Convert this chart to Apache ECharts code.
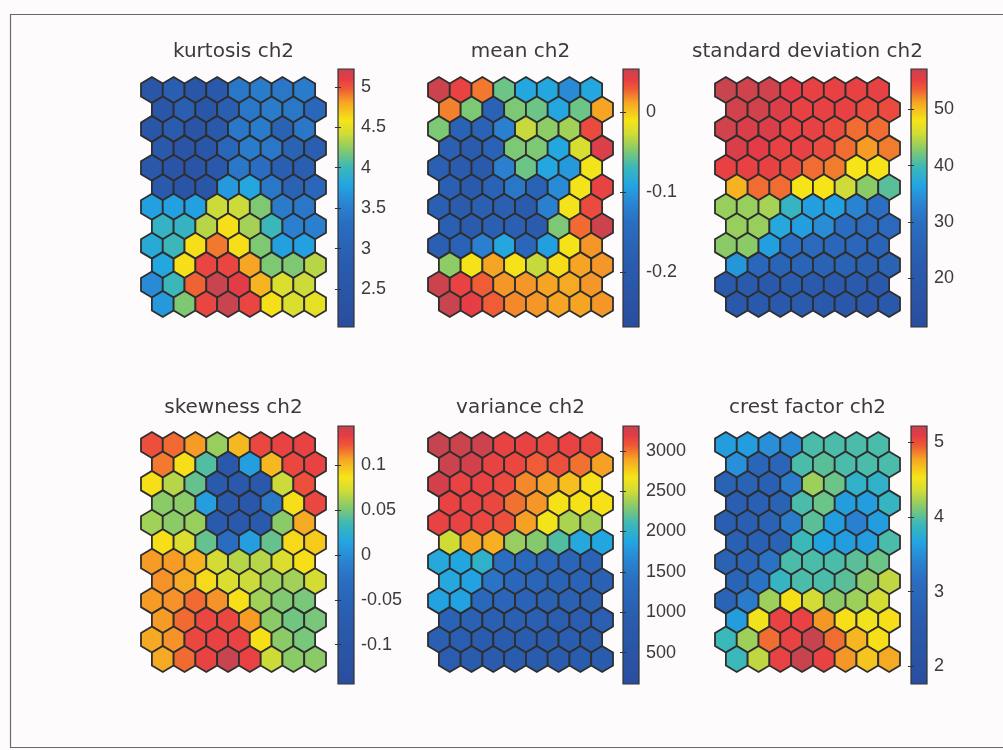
<!DOCTYPE html>
<html>
<head>
<meta charset="utf-8">
<script src="https://cdn.jsdelivr.net/npm/echarts@6/dist/echarts.min.js"></script>
<style>
  html, body { margin: 0; padding: 0; background: #fdfbfb; }
  #chart { width: 1003px; height: 750px; }
</style>
</head>
<body>
<div id="chart"></div>
<script>
// SOM component planes for channel 2: 12 rows x 8 hexagonal units each (row 1 = top).
const kurtosisCh2 = [
  [2.5, 2.9, 2.5, 2.6, 3.4, 3.45, 3.4, 3.45],
  [2.5, 2.9, 2.5, 2.9, 3.4, 3.45, 3.4, 3.1],
  [2.5, 2.8, 2.4, 2.6, 3.4, 3.45, 3.0, 3.4],
  [2.6, 2.4, 2.5, 3.1, 3.45, 3.4, 3.0, 2.9],
  [2.6, 2.4, 2.4, 2.6, 3.4, 3.3, 2.9, 2.9],
  [2.7, 2.4, 2.5, 3.7, 3.8, 3.4, 3.0, 3.1],
  [3.75, 3.75, 3.75, 4.4, 4.4, 4.2, 3.45, 3.4],
  [3.95, 3.95, 4.35, 4.6, 4.3, 4.0, 3.5, 3.5],
  [3.85, 4.0, 4.6, 4.9, 4.6, 4.2, 3.75, 3.75],
  [3.8, 4.6, 5.05, 5.05, 4.8, 4.2, 4.2, 4.35],
  [3.6, 4.0, 4.95, 5.2, 5.1, 4.75, 4.45, 4.4],
  [3.7, 4.2, 5.05, 5.2, 5.05, 4.6, 4.45, 4.5]
];
const meanCh2 = [
  [0.05, 0.038, 0.022, -0.055, -0.09, -0.09, -0.11, -0.09],
  [0.02, -0.05, -0.17, -0.05, -0.055, -0.09, -0.055, 0.012],
  [-0.05, -0.17, -0.17, -0.12, -0.03, -0.045, -0.04, 0.035],
  [-0.18, -0.19, -0.17, -0.05, -0.05, -0.09, -0.025, 0.045],
  [-0.18, -0.19, -0.2, -0.12, -0.055, -0.09, -0.1, -0.012],
  [-0.18, -0.2, -0.17, -0.13, -0.17, -0.11, -0.012, 0.038],
  [-0.18, -0.19, -0.18, -0.18, -0.19, -0.12, -0.012, 0.035],
  [-0.18, -0.19, -0.18, -0.18, -0.19, -0.05, 0.025, 0.05],
  [-0.18, -0.17, -0.12, -0.09, -0.16, -0.095, -0.01, 0.015],
  [-0.045, -0.01, 0.012, -0.01, -0.03, -0.008, 0.012, 0.015],
  [0.05, 0.038, 0.028, 0.015, 0.015, 0.012, 0.01, 0.015],
  [0.052, 0.04, 0.028, 0.018, 0.015, 0.012, 0.012, 0.015]
];
const stdCh2 = [
  [57, 56.5, 56.5, 55.5, 55, 55, 55, 55],
  [56.5, 56.5, 56, 55, 55, 55, 54.5, 54.5],
  [56.5, 56, 56, 55, 55, 54.5, 53, 53],
  [56, 55.5, 55, 55, 54.5, 53, 51.5, 52.5],
  [55, 55, 55, 54.5, 53, 52.5, 48, 48],
  [50.5, 53, 53, 48, 48, 45.5, 43, 41],
  [43.5, 43.5, 44, 39, 36, 36, 33, 30],
  [43.5, 43.5, 37, 36, 34, 29, 28, 28],
  [43, 43, 36, 29, 28, 27, 27, 26],
  [35, 27, 26, 26, 25, 25, 24, 25],
  [21, 21, 20, 23, 21, 20, 21, 20],
  [20, 20, 20, 21, 20, 19, 19, 20]
];
const skewnessCh2 = [
  [0.125, 0.118, 0.108, 0.058, 0.1, 0.128, 0.13, 0.13],
  [0.115, 0.088, 0.04, -0.085, 0.01, 0.1, 0.128, 0.13],
  [0.088, 0.065, 0.045, -0.08, -0.09, -0.085, 0.07, 0.125],
  [0.055, 0.055, 0.01, -0.085, -0.095, -0.02, 0.088, 0.128],
  [0.06, 0.055, 0.058, -0.08, -0.09, -0.08, 0.055, 0.105],
  [0.088, 0.075, 0.045, -0.03, 0.01, 0.045, 0.09, 0.095],
  [0.108, 0.108, 0.102, 0.072, 0.065, 0.065, 0.075, 0.088],
  [0.11, 0.105, 0.09, 0.075, 0.07, 0.06, 0.06, 0.072],
  [0.108, 0.11, 0.118, 0.11, 0.088, 0.06, 0.052, 0.05],
  [0.108, 0.118, 0.128, 0.128, 0.108, 0.055, 0.048, 0.05],
  [0.105, 0.11, 0.128, 0.13, 0.13, 0.088, 0.055, 0.05],
  [0.105, 0.118, 0.13, 0.142, 0.13, 0.07, 0.055, 0.055]
];
const varianceCh2 = [
  [3300, 3280, 3270, 3150, 3150, 3140, 3150, 3130],
  [3280, 3250, 3150, 3130, 3050, 3100, 3000, 2900],
  [3250, 3150, 3150, 3120, 2950, 2900, 2800, 2680],
  [3150, 3150, 3130, 3000, 2920, 2680, 2680, 2680],
  [3150, 3150, 3130, 3100, 2900, 2650, 2400, 2380],
  [2500, 2880, 2850, 2350, 2300, 2150, 1900, 1880],
  [1900, 1880, 2000, 1400, 1250, 1200, 1150, 1100],
  [1900, 1850, 1450, 1200, 1150, 1100, 1100, 1050],
  [1850, 1850, 1250, 1150, 1100, 1050, 1050, 1000],
  [1100, 1050, 1000, 1000, 1000, 950, 950, 1000],
  [1000, 950, 900, 900, 900, 900, 950, 900],
  [950, 900, 880, 900, 880, 900, 900, 900]
];
const crestFactorCh2 = [
  [3.6, 3.6, 3.5, 3.45, 3.95, 3.95, 3.95, 3.95],
  [3.5, 2.9, 2.9, 3.95, 4.0, 3.95, 3.95, 3.95],
  [2.8, 2.8, 2.75, 3.3, 4.2, 4.05, 3.8, 3.8],
  [2.7, 2.75, 2.8, 3.95, 4.05, 3.6, 3.6, 3.85],
  [2.7, 2.7, 2.8, 3.3, 4.0, 3.6, 3.35, 3.6],
  [2.75, 2.75, 2.8, 3.9, 3.65, 3.6, 3.6, 3.95],
  [2.8, 2.85, 3.2, 3.95, 3.95, 3.95, 4.0, 4.05],
  [2.85, 3.2, 3.85, 3.95, 3.95, 4.0, 4.15, 4.3],
  [2.85, 3.3, 4.2, 4.55, 4.35, 4.15, 4.2, 4.35],
  [3.6, 4.5, 5.05, 5.05, 4.8, 4.55, 4.5, 4.55],
  [3.9, 4.2, 4.9, 5.05, 5.2, 4.9, 4.7, 4.55],
  [3.9, 4.3, 5.05, 5.2, 5.05, 4.8, 4.65, 4.75]
];

// Colour-scale limits and colorbar tick values for each plane
const kurtosisRange = [2.03, 5.22];
const meanRange = [-0.269, 0.054];
const stdRange = [11.3, 57.2];
const skewnessRange = [-0.144, 0.144];
const varianceRange = [111, 3307];
const crestFactorRange = [1.76, 5.22];

const kurtosisTicks = [2.5, 3, 3.5, 4, 4.5, 5];
const meanTicks = [-0.2, -0.1, 0];
const stdTicks = [20, 30, 40, 50];
const skewnessTicks = [-0.1, -0.05, 0, 0.05, 0.1];
const varianceTicks = [500, 1000, 1500, 2000, 2500, 3000];
const crestFactorTicks = [2, 3, 4, 5];

const titles = ['kurtosis ch2', 'mean ch2', 'standard deviation ch2',
                'skewness ch2', 'variance ch2', 'crest factor ch2'];

const panels = [
  { title: titles[0], values: kurtosisCh2, range: kurtosisRange, ticks: kurtosisTicks },
  { title: titles[1], values: meanCh2, range: meanRange, ticks: meanTicks },
  { title: titles[2], values: stdCh2, range: stdRange, ticks: stdTicks },
  { title: titles[3], values: skewnessCh2, range: skewnessRange, ticks: skewnessTicks },
  { title: titles[4], values: varianceCh2, range: varianceRange, ticks: varianceTicks },
  { title: titles[5], values: crestFactorCh2, range: crestFactorRange, ticks: crestFactorTicks }
];

// ---- page layout (pixels) ----
const COL_X = [141, 428, 715];      // left of hex block
const BAR_X = [338, 623, 911];      // left of colorbar
const ROW_Y = [77, 432];            // top of hex block
const BAR_Y = [69, 426];            // top of colorbar
const HEX_W = 185, HEX_H = 240, BAR_W = 16, BAR_H = 258;
const TITLE_Y = [52, 408];
const TEXT_COLOR = '#3b3b3b';

// ---- hex lattice geometry (unit = hex width) ----
const HEX_R = 1 / Math.sqrt(3);     // centre-to-vertex radius
const ROW_STEP = 1.5 * HEX_R;       // vertical distance between rows

// ---- colour map ----
const STOPS = [
  [0.00, '#2a4d9e'], [0.25, '#2a5cae'], [0.40, '#2a6dc0'], [0.48, '#2a85d2'],
  [0.55, '#22a5e2'], [0.62, '#3cb8b8'], [0.69, '#8acb68'], [0.75, '#d4dc34'],
  [0.80, '#f6e418'], [0.87, '#f6a424'], [0.92, '#ef5b36'], [0.96, '#e63b46'],
  [1.00, '#c2464f']
];
function hexToRgb(h) { return [1, 3, 5].map(i => parseInt(h.substr(i, 2), 16)); }
function colorAt(t) {
  for (let i = 1; i < STOPS.length; i++) {
    if (t <= STOPS[i][0]) {
      const a = STOPS[i - 1], b = STOPS[i];
      const f = (t - a[0]) / (b[0] - a[0]);
      const ca = hexToRgb(a[1]), cb = hexToRgb(b[1]);
      const c = ca.map((v, k) => Math.round(v + (cb[k] - v) * f));
      return 'rgb(' + c.join(',') + ')';
    }
  }
  return STOPS[STOPS.length - 1][1];
}
const PALETTE = [];
for (let i = 0; i <= 100; i++) PALETTE.push(colorAt(i / 100));
const GRADIENT = STOPS.map(s => ({ offset: 1 - s[0], color: s[1] })).reverse();

const grid = [], xAxis = [], yAxis = [], series = [], visualMap = [], graphic = [];

panels.forEach((p, i) => {
  const col = i % 3, row = Math.floor(i / 3);
  const hexGrid = grid.length;
  grid.push({ left: COL_X[col], top: ROW_Y[row], width: HEX_W, height: HEX_H });
  const barGrid = grid.length;
  grid.push({ left: BAR_X[col], top: BAR_Y[row], width: BAR_W, height: BAR_H });

  // hex plane axes
  const hx = xAxis.length;
  xAxis.push({ gridIndex: hexGrid, type: 'value', min: -0.5, max: 8, show: false });
  const hy = yAxis.length;
  yAxis.push({ gridIndex: hexGrid, type: 'value', inverse: true,
               min: -HEX_R, max: 11 * ROW_STEP + HEX_R, show: false });

  // colorbar axes
  const bx = xAxis.length;
  xAxis.push({ gridIndex: barGrid, type: 'value', min: 0, max: 1, show: false });
  const by = yAxis.length;
  yAxis.push({
    gridIndex: barGrid, type: 'value', position: 'right', z: 10,
    min: p.range[0], max: p.range[1],
    axisLine: { show: false }, splitLine: { show: false },
    axisTick: { show: true, inside: true, length: 3, customValues: p.ticks,
                lineStyle: { color: '#333', width: 1 } },
    axisLabel: { show: true, customValues: p.ticks, margin: 7,
                 formatter: v => String(v),
                 fontFamily: 'Liberation Sans', fontSize: 18, color: TEXT_COLOR }
  });
  yAxis.push({
    gridIndex: barGrid, type: 'value', position: 'left', z: 10,
    min: p.range[0], max: p.range[1],
    axisLine: { show: false }, splitLine: { show: false }, axisLabel: { show: false },
    axisTick: { show: true, inside: true, length: 3, customValues: p.ticks,
                lineStyle: { color: '#333', width: 1 } }
  });

  // hex cells: [x, y, value] with every other row shifted by half a hex
  const cells = [];
  p.values.forEach((rowVals, r) => {
    rowVals.forEach((v, c) => cells.push([c + (r % 2) * 0.5, r * ROW_STEP, v]));
  });

  const hexSeriesIndex = series.length;
  series.push({
    type: 'custom', name: p.title, xAxisIndex: hx, yAxisIndex: hy,
    data: cells,
    renderItem: (params, api) => {
      const c = api.coord([api.value(0), api.value(1)]);
      const s = api.size([1, 1]);
      const hw = s[0] / 2, rr = s[1] * HEX_R;
      return {
        type: 'polygon',
        shape: { points: [
          [c[0], c[1] - rr], [c[0] + hw, c[1] - rr / 2], [c[0] + hw, c[1] + rr / 2],
          [c[0], c[1] + rr], [c[0] - hw, c[1] + rr / 2], [c[0] - hw, c[1] - rr / 2]
        ] },
        style: { fill: api.visual('color'), stroke: '#2e2e2e', lineWidth: 1.8 }
      };
    }
  });
  visualMap.push({
    type: 'continuous', show: false, seriesIndex: hexSeriesIndex, dimension: 2,
    min: p.range[0], max: p.range[1], inRange: { color: PALETTE }
  });

  // colorbar strip spanning the colour-scale limits
  series.push({
    type: 'custom', xAxisIndex: bx, yAxisIndex: by, silent: true,
    data: [[0, p.range[0], p.range[1]]],
    renderItem: (params, api) => {
      const top = api.coord([0, api.value(2)]);
      const bot = api.coord([1, api.value(1)]);
      return {
        type: 'rect',
        shape: { x: top[0], y: top[1], width: bot[0] - top[0], height: bot[1] - top[1] },
        style: {
          fill: new echarts.graphic.LinearGradient(0, 0, 0, 1, GRADIENT),
          stroke: '#333', lineWidth: 1.2
        }
      };
    }
  });

  graphic.push({
    type: 'text', x: COL_X[col] + HEX_W / 2, y: TITLE_Y[row],
    style: { text: p.title, align: 'center', verticalAlign: 'middle',
             font: '20px "DejaVu Sans"', fill: TEXT_COLOR }
  });
});

// figure frame
graphic.push({
  type: 'rect', left: 8, top: 12, z: -1,
  shape: { width: 1000, height: 733 },
  style: { fill: 'none', stroke: '#6a6a6a', lineWidth: 1.2 }
});

const chart = echarts.init(document.getElementById('chart'), null, { renderer: 'canvas' });
chart.setOption({
  backgroundColor: '#fdfbfb',
  animation: false,
  grid, xAxis, yAxis, visualMap, series, graphic
});
</script>
</body>
</html>
